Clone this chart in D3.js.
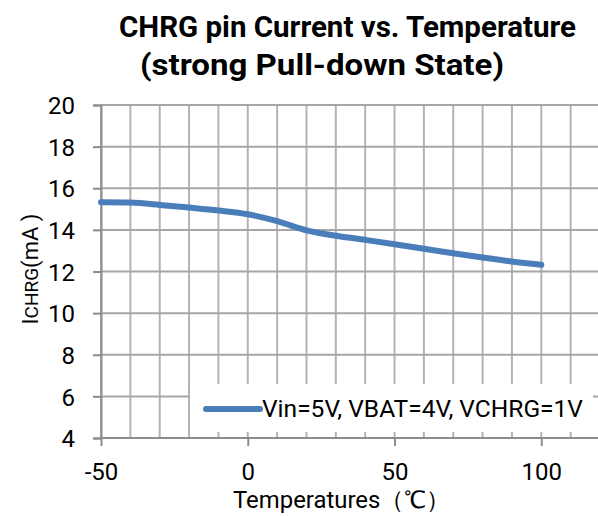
<!DOCTYPE html>
<html><head><meta charset="utf-8">
<script src="https://cdn.jsdelivr.net/npm/d3@7"></script>
<style>body{margin:0;background:#fff}svg{display:block}text{font-family:Roboto,"Open Sans",sans-serif;fill:#000}</style>
</head><body>
<svg id="c" width="598" height="516"></svg>
<script>
const temperatures = [-50,-40,-30,-20,-10,0,10,20,30,40,50,60,70,80,90,100];
const currents = [15.33,15.31,15.2,15.07,14.93,14.75,14.42,13.98,13.72,13.52,13.31,13.09,12.88,12.67,12.48,12.32];
const xTicks = [-50,0,50,100];
const yTicks = [4,6,8,10,12,14,16,18,20];
const seriesName = "Vin=5V, VBAT=4V, VCHRG=1V";
const titleLines = ["CHRG pin Current vs. Temperature","(strong Pull-down State)"];

const svg = d3.select("#c");
const x = d3.scaleLinear().domain([-50,120]).range([101,600]);
const y = d3.scaleLinear().domain([4,20]).range([438,105]);

// grid
const gv = d3.range(-50,121,10);
svg.append("g").selectAll("line").data(gv).join("line")
  .attr("x1",d=>x(d)).attr("x2",d=>x(d)).attr("y1",y(20)).attr("y2",y(4))
  .attr("stroke","#b3b3b3").attr("stroke-width",2);
svg.append("g").selectAll("line").data(yTicks.filter(d=>d>4)).join("line")
  .attr("x1",x(-50)).attr("x2",600).attr("y1",d=>y(d)).attr("y2",d=>y(d))
  .attr("stroke","#a6a6a6").attr("stroke-width",2);

// axes
const yAxis = d3.axisLeft(y).tickValues(yTicks).tickFormat(d=>String(d)).tickSize(8).tickPadding(18);
const gy = svg.append("g").attr("transform",`translate(${x(-50)},0)`).call(yAxis);
gy.select(".domain").attr("stroke","#8c8c8c").attr("stroke-width",2);
gy.selectAll(".tick line").attr("stroke","#8c8c8c").attr("stroke-width",2);
gy.selectAll(".tick text").attr("font-size",24).attr("font-family","Roboto").attr("dy","0.36em");

const xAxis = d3.axisBottom(x).tickValues(xTicks).tickFormat(d=>String(d)).tickSize(8).tickPadding(17);
const gx = svg.append("g").attr("transform",`translate(0,${y(4)})`).call(xAxis);
gx.select(".domain").attr("stroke","#8c8c8c").attr("stroke-width",2).attr("d",`M${x(-50)},0H600`);
gx.selectAll(".tick line").attr("stroke","#8c8c8c").attr("stroke-width",2);
gx.selectAll(".tick text").attr("font-size",24).attr("font-family","Roboto");

// line
const line = d3.line().x((d,i)=>x(temperatures[i])).y(d=>y(d)).curve(d3.curveCatmullRom.alpha(0.5));
svg.append("path").datum(currents).attr("d",line).attr("fill","none")
  .attr("stroke","#4a7ebb").attr("stroke-width",6).attr("stroke-linecap","round");

// legend
const lg = svg.append("g");
lg.append("rect").attr("x",190).attr("y",384).attr("width",403).attr("height",48).attr("fill","#fff");
lg.append("line").attr("x1",206).attr("x2",260).attr("y1",409).attr("y2",409)
  .attr("stroke","#4a7ebb").attr("stroke-width",6).attr("stroke-linecap","round");
lg.append("text").attr("x",262).attr("y",417).attr("font-size",24)
  .attr("textLength",321).attr("lengthAdjust","spacingAndGlyphs").text(seriesName);

// title
svg.append("text").attr("x",119).attr("y",37)
  .attr("font-size",29).attr("font-weight","bold")
  .attr("textLength",457).attr("lengthAdjust","spacingAndGlyphs").text(titleLines[0]);
svg.append("text").attr("x",140).attr("y",75)
  .attr("font-size",29).attr("font-weight","bold")
  .attr("textLength",364).attr("lengthAdjust","spacingAndGlyphs").text(titleLines[1]);

// axis titles
const yt = svg.append("text").attr("transform","translate(38,269) rotate(-90)").attr("text-anchor","middle").attr("font-size",22);
yt.append("tspan").text("I");
yt.append("tspan").attr("font-size",19).text("CHRG");
yt.append("tspan").text("(mA )");
svg.append("text").attr("x",233).attr("y",508).attr("font-size",24)
  .attr("textLength",217).attr("lengthAdjust","spacingAndGlyphs").text("Temperatures（℃）");
</script>
</body></html>
